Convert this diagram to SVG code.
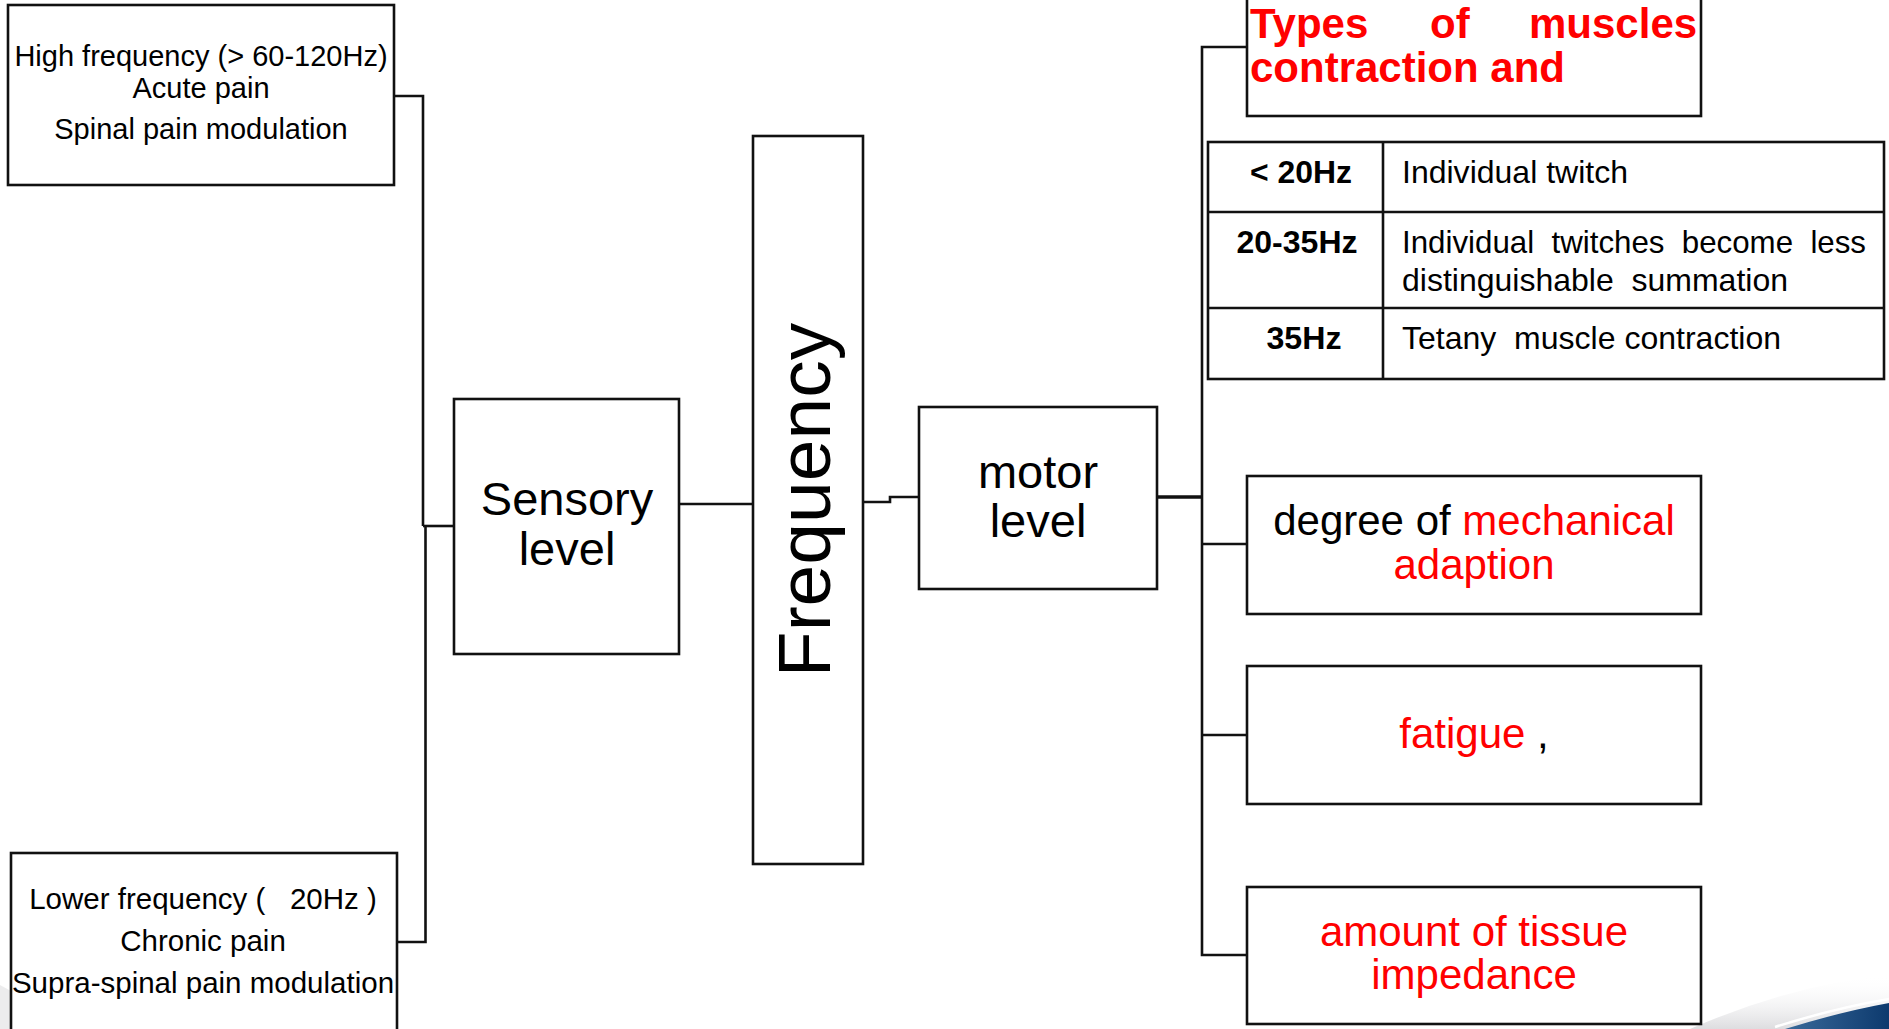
<svg xmlns="http://www.w3.org/2000/svg" width="1889" height="1029" viewBox="0 0 1889 1029">
  <defs>
    <style>
      .box { fill: #ffffff; stroke: #111111; stroke-width: 2.6; }
      .wire { fill: none; stroke: #111111; stroke-width: 2.6; }
      .wire-bold { fill: none; stroke: #111111; stroke-width: 3.6; }
      .grid { fill: none; stroke: #111111; stroke-width: 2.6; }
      .t { font-family: "Liberation Sans", Arial, sans-serif; fill: #000000; }
      .red { fill: #ff0000; }
      .mid { text-anchor: middle; }
      .side { font-size: 29px; }
      .side-low { font-size: 29.5px; }
      .lvl { font-size: 47px; }
      .item { font-size: 42px; }
      .head { font-size: 42px; font-weight: bold; fill: #ff0000; }
      .cell { font-size: 32px; }
      .cellb { font-size: 32px; font-weight: bold; }
    </style>
    <linearGradient id="hazeR" x1="0" y1="0" x2="0" y2="1">
      <stop offset="0" stop-color="#ffffff" stop-opacity="0"/>
      <stop offset="1" stop-color="#d9d9dc" stop-opacity="0.9"/>
    </linearGradient>
    <linearGradient id="wave" x1="0" y1="0" x2="1" y2="0">
      <stop offset="0" stop-color="#3a6a9a"/>
      <stop offset="1" stop-color="#0d3a6e"/>
    </linearGradient>
  </defs>

  <rect x="0" y="0" width="1889" height="1029" fill="#ffffff"/>

  <!-- slide decoration, lower corners -->
  <path d="M1690 1029 Q1790 985 1889 975 L1889 1029 Z" fill="url(#hazeR)"/>
  <path d="M0 985 Q30 1000 60 1029 L0 1029 Z" fill="#e4e4e6" opacity="0.7"/>
  <path d="M1785 1029 Q1840 1012 1889 1003 L1889 1029 Z" fill="url(#wave)"/>
  <path d="M1775 1027 Q1835 1008 1889 999" fill="none" stroke="#ffffff" stroke-width="2.5"/>

  <!-- connectors -->
  <g id="connectors">
    <path class="wire" d="M394 96 H423 V526"/>
    <path class="wire" d="M397 942 H425.5 V526"/>
    <path class="wire" d="M423 526 H454"/>
    <path class="wire" d="M673 504 H763"/>
    <path class="wire" d="M863 502 H890 V497 H919"/>
    <path class="wire-bold" d="M1157 497 H1202"/>
    <path class="wire" d="M1247 47 H1202 V955 H1247"/>
    <path class="wire" d="M1202 544 H1247"/>
    <path class="wire" d="M1202 735 H1247"/>
  </g>

  <!-- high frequency node -->
  <g id="node-high">
    <rect class="box" x="8" y="5" width="386" height="180"/>
    <text class="t side mid" x="201" y="66">High frequency (&gt; 60-120Hz)</text>
    <text class="t side mid" x="201" y="98">Acute pain</text>
    <text class="t side mid" x="201" y="139">Spinal pain modulation</text>
  </g>

  <!-- low frequency node -->
  <g id="node-low">
    <rect class="box" x="11" y="853" width="386" height="200"/>
    <text class="t side-low mid" x="203" y="909">Lower frequency (&#160;&#160; 20Hz )</text>
    <text class="t side-low mid" x="203" y="951">Chronic pain</text>
    <text class="t side-low mid" x="203" y="993">Supra-spinal pain modulation</text>
  </g>

  <!-- sensory level -->
  <g id="node-sensory">
    <rect class="box" x="454" y="399" width="225" height="255"/>
    <text class="t lvl mid" x="567" y="515">Sensory</text>
    <text class="t lvl mid" x="567" y="565">level</text>
  </g>

  <!-- frequency column -->
  <g id="node-frequency">
    <rect class="box" x="753" y="136" width="110" height="728"/>
    <text class="t mid" transform="translate(830 500) rotate(-90)" style="font-size:75px">Frequency</text>
  </g>

  <!-- motor level -->
  <g id="node-motor">
    <rect class="box" x="919" y="407" width="238" height="182"/>
    <text class="t lvl mid" x="1038" y="488">motor</text>
    <text class="t lvl mid" x="1038" y="537">level</text>
  </g>

  <!-- contraction types heading -->
  <g id="node-types">
    <rect class="box" x="1247" y="-10" width="454" height="126"/>
    <text class="t head" y="38"><tspan x="1250">Types</tspan><tspan x="1430">of</tspan><tspan x="1529">muscles</tspan></text>
    <text class="t head" x="1250" y="82">contraction and</text>
  </g>

  <!-- frequency / response table -->
  <g id="node-table">
    <rect class="grid" x="1208" y="142" width="676" height="237"/>
    <path class="grid" d="M1208 212 H1884 M1208 308 H1884 M1383 142 V379"/>
    <text class="t cellb mid" x="1301" y="183" textLength="102" lengthAdjust="spacingAndGlyphs">&lt; 20Hz</text>
    <text class="t cellb mid" x="1297" y="253" textLength="121" lengthAdjust="spacingAndGlyphs">20-35Hz</text>
    <text class="t cellb mid" x="1304" y="349" textLength="75" lengthAdjust="spacingAndGlyphs">35Hz</text>
    <text class="t cell" x="1402" y="183" textLength="226" lengthAdjust="spacingAndGlyphs">Individual twitch</text>
    <text class="t cell" x="1402" y="253" textLength="464" lengthAdjust="spacingAndGlyphs">Individual&#160; twitches&#160; become&#160; less</text>
    <text class="t cell" x="1402" y="291" textLength="386" lengthAdjust="spacingAndGlyphs">distinguishable&#160; summation</text>
    <text class="t cell" x="1402" y="349" textLength="379" lengthAdjust="spacingAndGlyphs">Tetany&#160; muscle contraction</text>
  </g>

  <!-- mechanical adaption -->
  <g id="node-adaption">
    <rect class="box" x="1247" y="476" width="454" height="138"/>
    <text class="t item mid" x="1474" y="535">degree of <tspan class="red">mechanical</tspan></text>
    <text class="t item mid red" x="1474" y="579">adaption</text>
  </g>

  <!-- fatigue -->
  <g id="node-fatigue">
    <rect class="box" x="1247" y="666" width="454" height="138"/>
    <text class="t item mid" x="1474" y="748"><tspan class="red">fatigue</tspan> ,</text>
  </g>

  <!-- tissue impedance -->
  <g id="node-impedance">
    <rect class="box" x="1247" y="887" width="454" height="137"/>
    <text class="t item mid red" x="1474" y="946">amount of tissue</text>
    <text class="t item mid red" x="1474" y="989">impedance</text>
  </g>
</svg>
